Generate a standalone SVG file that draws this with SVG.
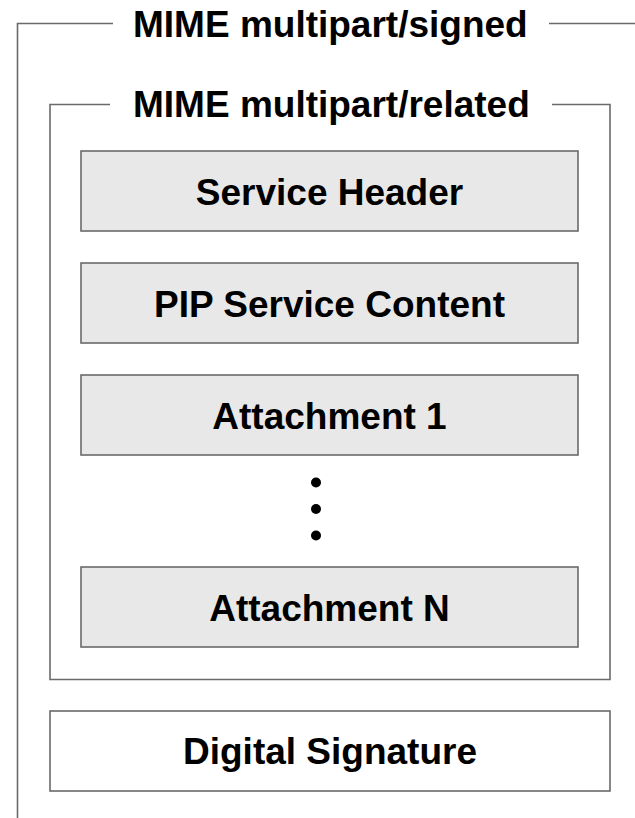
<svg xmlns="http://www.w3.org/2000/svg" width="635" height="818" viewBox="0 0 635 818">
  <style>
    .frame { fill: none; stroke: #6a6a6a; stroke-width: 1.6; }
    .part { fill: #e8e8e8; stroke: #6a6a6a; stroke-width: 1.6; }
    .sig { fill: #ffffff; stroke: #6a6a6a; stroke-width: 1.6; }
    .label { font-family: "Liberation Sans", Arial, Helvetica, sans-serif; font-weight: bold; font-size: 37px; fill: #000000; text-anchor: middle; }
    .title { font-family: "Liberation Sans", Arial, Helvetica, sans-serif; font-weight: bold; font-size: 37px; fill: #000000; text-anchor: start; }
    .dot { fill: #000000; }
  </style>
  <rect width="635" height="818" fill="#ffffff"/>

  <!-- Outer envelope: multipart/signed -->
  <g id="signed">
    <path class="frame" d="M113,23.5 H17.5 V818"/>
    <path class="frame" d="M549,23.5 H635"/>
    <text class="title" x="133" y="37">MIME multipart/signed</text>
  </g>

  <!-- Inner envelope: multipart/related -->
  <g id="related">
    <path class="frame" d="M110,104.5 H50 V679.5 H610 V104.5 H552"/>
    <text class="title" x="133" y="117">MIME multipart/related</text>
  </g>

  <g id="service-header">
    <rect class="part" x="81" y="151" width="497" height="80"/>
    <text class="label" x="329.5" y="205">Service Header</text>
  </g>

  <g id="pip-service-content">
    <rect class="part" x="81" y="263" width="497" height="80"/>
    <text class="label" x="329.5" y="317">PIP Service Content</text>
  </g>

  <g id="attachment-1">
    <rect class="part" x="81" y="375" width="497" height="80"/>
    <text class="label" x="329.5" y="429">Attachment 1</text>
  </g>

  <g id="ellipsis">
    <circle class="dot" cx="316" cy="482.5" r="5"/>
    <circle class="dot" cx="316" cy="509" r="5"/>
    <circle class="dot" cx="316" cy="535.5" r="5"/>
  </g>

  <g id="attachment-n">
    <rect class="part" x="81" y="567" width="497" height="80"/>
    <text class="label" x="329.5" y="621">Attachment N</text>
  </g>

  <g id="digital-signature">
    <rect class="sig" x="50" y="711" width="560" height="80"/>
    <text class="label" x="330" y="764">Digital Signature</text>
  </g>

  <g id="connectors"></g>
</svg>
